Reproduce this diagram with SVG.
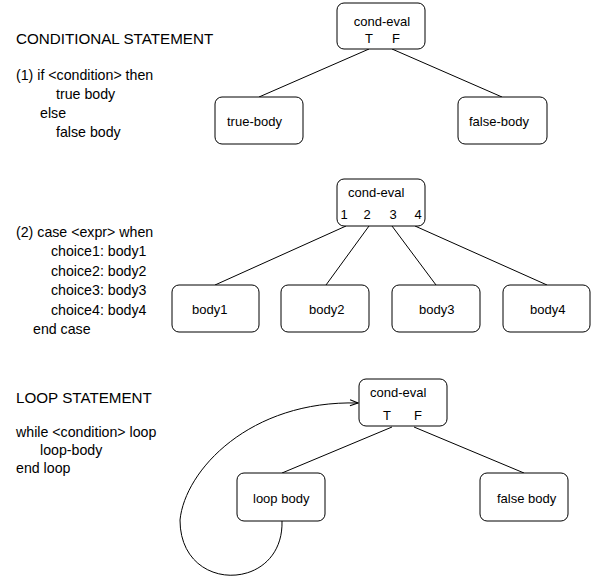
<svg xmlns="http://www.w3.org/2000/svg" width="595" height="576" viewBox="0 0 595 576">
<defs>
<style>
.box{fill:#fff;stroke:#000;stroke-width:1}
.ln{fill:none;stroke:#000;stroke-width:1}
.nt{font-family:"Liberation Sans",Arial,sans-serif;font-size:13px;fill:#000}
.lt{font-family:"Liberation Sans",Arial,sans-serif;font-size:14.2px;fill:#000}
.hd{font-family:"Liberation Sans",Arial,sans-serif;font-size:15.2px;fill:#000}
</style>
<marker id="arr" markerWidth="10" markerHeight="8" refX="9" refY="4" orient="auto" markerUnits="userSpaceOnUse">
<path d="M1,1 L9,4 L1,7" fill="none" stroke="#000" stroke-width="1"/>
</marker>
</defs>
<rect width="595" height="576" fill="#fff"/>

<g id="text-left">
<text class="hd" x="16" y="44">CONDITIONAL STATEMENT</text>
<text class="lt" x="16" y="80">(1) if &lt;condition&gt; then</text>
<text class="lt" x="56" y="99">true body</text>
<text class="lt" x="40" y="118">else</text>
<text class="lt" x="56" y="137">false body</text>
<text class="lt" x="16" y="237">(2) case &lt;expr&gt; when</text>
<text class="lt" x="51" y="256">choice1: body1</text>
<text class="lt" x="51" y="276">choice2: body2</text>
<text class="lt" x="51" y="295">choice3: body3</text>
<text class="lt" x="51" y="315">choice4: body4</text>
<text class="lt" x="33" y="334">end case</text>
<text class="hd" x="16" y="403">LOOP  STATEMENT</text>
<text class="lt" x="16" y="437">while &lt;condition&gt; loop</text>
<text class="lt" x="40" y="455">loop-body</text>
<text class="lt" x="16" y="473">end loop</text>
</g>

<g id="connectors">
<line class="ln" x1="369" y1="49" x2="259" y2="97"/>
<line class="ln" x1="392" y1="49" x2="502" y2="97"/>
<line class="ln" x1="346" y1="226" x2="215" y2="285"/>
<line class="ln" x1="369" y1="226" x2="326" y2="285"/>
<line class="ln" x1="392" y1="226" x2="436" y2="285"/>
<line class="ln" x1="415" y1="226" x2="547" y2="285"/>
<line class="ln" x1="392" y1="427" x2="282" y2="473"/>
<line class="ln" x1="414" y1="427" x2="524" y2="473"/>
<path class="ln" d="M282,521 C284,592 180,595 180,520 C185,470 250,400 358,403" marker-end="url(#arr)"/>
</g>

<g id="cond1">
<rect class="box" x="337" y="3" width="88" height="46" rx="7"/>
<text class="nt" x="382" y="26" text-anchor="middle">cond-eval</text>
<text class="nt" x="369" y="43" text-anchor="middle">T</text>
<text class="nt" x="396" y="43" text-anchor="middle">F</text>
</g>
<g id="true-body">
<rect class="box" x="215" y="97" width="88" height="47" rx="7"/>
<text class="nt" x="227" y="126">true-body</text>
</g>
<g id="false-body">
<rect class="box" x="458" y="97" width="89" height="47" rx="7"/>
<text class="nt" x="469" y="126">false-body</text>
</g>

<g id="cond2">
<rect class="box" x="337" y="179" width="88" height="47" rx="7"/>
<text class="nt" x="348" y="197">cond-eval</text>
<text class="nt" x="344" y="219" text-anchor="middle">1</text>
<text class="nt" x="367" y="219" text-anchor="middle">2</text>
<text class="nt" x="393" y="219" text-anchor="middle">3</text>
<text class="nt" x="418" y="219" text-anchor="middle">4</text>
</g>
<g id="body1">
<rect class="box" x="172" y="285" width="87" height="47" rx="7"/>
<text class="nt" x="192" y="314">body1</text>
</g>
<g id="body2">
<rect class="box" x="281" y="285" width="88" height="47" rx="7"/>
<text class="nt" x="309" y="314">body2</text>
</g>
<g id="body3">
<rect class="box" x="392" y="285" width="88" height="47" rx="7"/>
<text class="nt" x="419" y="314">body3</text>
</g>
<g id="body4">
<rect class="box" x="503" y="285" width="87" height="47" rx="7"/>
<text class="nt" x="530" y="314">body4</text>
</g>

<g id="cond3">
<rect class="box" x="359" y="379" width="88" height="47" rx="7"/>
<text class="nt" x="370" y="397">cond-eval</text>
<text class="nt" x="387" y="420" text-anchor="middle">T</text>
<text class="nt" x="418" y="420" text-anchor="middle">F</text>
</g>
<g id="loop-body">
<rect class="box" x="237" y="473" width="88" height="48" rx="7"/>
<text class="nt" x="253" y="503">loop body</text>
</g>
<g id="false-body-2">
<rect class="box" x="480" y="473" width="88" height="48" rx="7"/>
<text class="nt" x="497" y="503">false body</text>
</g>
</svg>
